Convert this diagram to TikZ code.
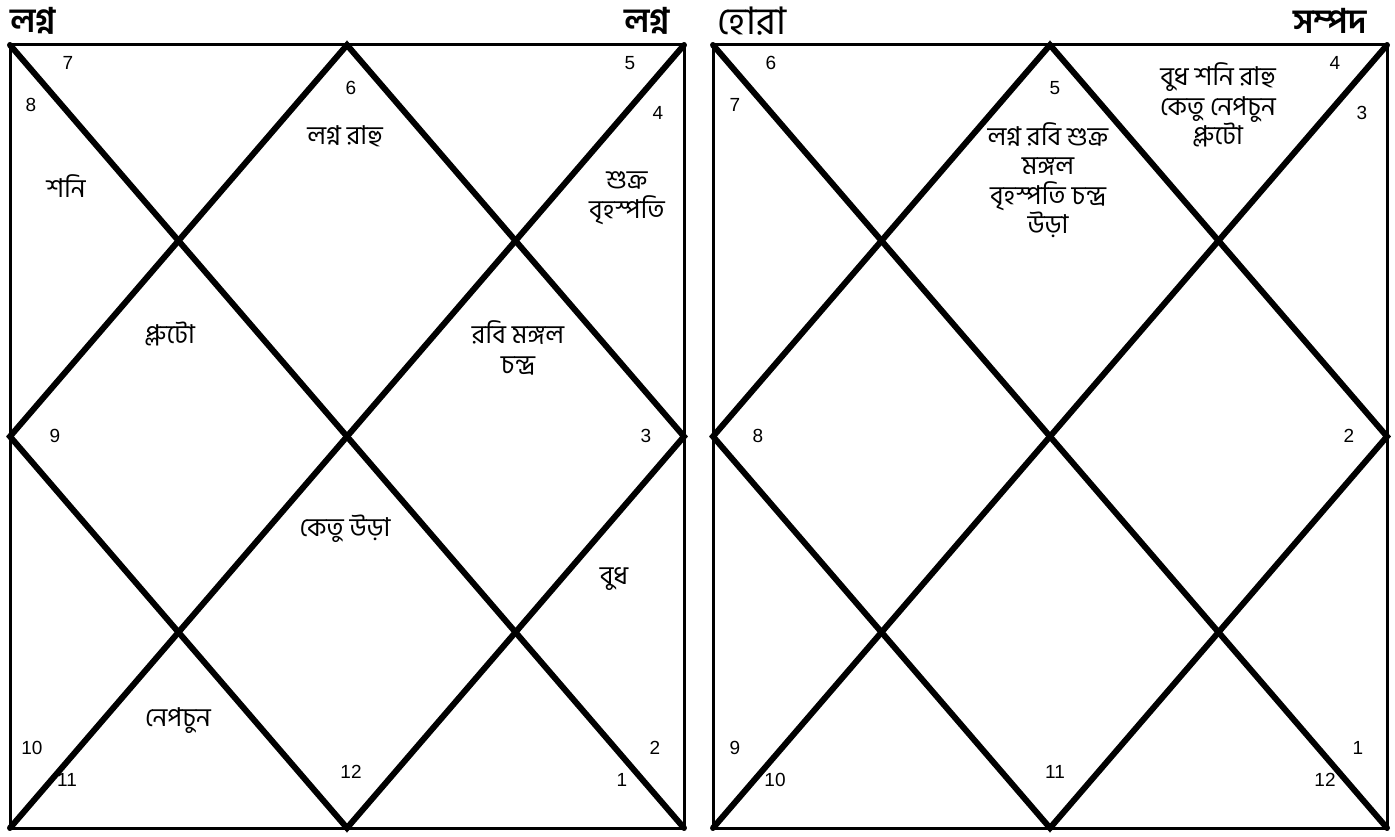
\documentclass[tikz,border=0pt]{standalone}
\usepackage{fontspec}
\setmainfont{Liberation Sans}
\newfontfamily\bn[Script=Bengali]{Hind Siliguri}
\begin{document}
\begin{tikzpicture}[x=1pt,y=-1pt]
\tikzset{
  frame/.style={line width=3pt},
  diag/.style={line width=6pt,line cap=round},
  num/.style={font=\fontsize{19}{22}\selectfont,inner sep=0pt},
  graha/.style={font=\bn\fontsize{26}{29.5}\selectfont,align=center,inner sep=0pt},
  title/.style={font=\bn\bfseries\fontsize{34}{36}\selectfont,inner sep=0pt}
}
\useasboundingbox (0,0) rectangle (1395,837);

% two charts, same grid
\foreach \c/\x in {lagna/10,hora/713}{
  \coordinate (\c-nw) at (\x,45);
  \coordinate (\c-ne) at (\x+674,45);
  \coordinate (\c-se) at (\x+674,828);
  \coordinate (\c-sw) at (\x,828);
  \coordinate (\c-n) at (\x+337,45);
  \coordinate (\c-e) at (\x+674,436.5);
  \coordinate (\c-s) at (\x+337,828);
  \coordinate (\c-w) at (\x,436.5);
  \draw[frame] (\c-nw) rectangle (\c-se);
  \draw[diag] (\c-nw) -- (\c-se);
  \draw[diag] (\c-ne) -- (\c-sw);
  \draw[diag,line join=miter] (\c-n) -- (\c-e) -- (\c-s) -- (\c-w) -- cycle;
}

% titles
\node[title] (t1) at (33,21) {লগ্ন};
\node[title] (t2) at (647,21) {লগ্ন};
\node[title,font=\bn\fontsize{38}{40}\selectfont] (t3) at (752,21) {হোরা};
\node[title] (t4) at (1330,21) {সম্পদ};

% lagna chart: house numbers
\node[num] (l7) at (68,63) {7};
\node[num] (l8) at (31,105) {8};
\node[num] (l6) at (351,88) {6};
\node[num] (l5) at (630,63) {5};
\node[num] (l4) at (658,113) {4};
\node[num] (l9) at (55,436) {9};
\node[num] (l3) at (646,436) {3};
\node[num] (l10) at (32,748) {10};
\node[num] (l11) at (67,780) {11};
\node[num] (l12) at (351,772) {12};
\node[num] (l2) at (655,748) {2};
\node[num] (l1) at (622,780) {1};

% lagna chart: planets
\node[graha] (lrahu) at (345,136) {লগ্ন রাহু};
\node[graha] (lshani) at (66,186) {শনি};
\node[graha] (lshukra) at (627,198) {শুক্র\\বৃহস্পতি};
\node[graha] (lpluto) at (170,334) {প্লুটো};
\node[graha] (lrabi) at (518,348) {রবি মঙ্গল\\চন্দ্র};
\node[graha] (lketu) at (345,529) {কেতু উড়া};
\node[graha] (lbudh) at (614,579) {বুধ};
\node[graha] (lnep) at (178,721) {নেপচুন};

% hora chart: house numbers
\node[num] (h6) at (771,63) {6};
\node[num] (h7) at (735,105) {7};
\node[num] (h5) at (1055,88) {5};
\node[num] (h4) at (1335,63) {4};
\node[num] (h3) at (1362,113) {3};
\node[num] (h8) at (758,436) {8};
\node[num] (h2) at (1349,436) {2};
\node[num] (h9) at (735,748) {9};
\node[num] (h10) at (775,780) {10};
\node[num] (h11) at (1055,772) {11};
\node[num] (h1) at (1358,748) {1};
\node[num] (h12) at (1325,780) {12};

% hora chart: planets
\node[graha] (hlagna) at (1048,180) {লগ্ন রবি শুক্র\\মঙ্গল\\বৃহস্পতি চন্দ্র\\উড়া};
\node[graha] (hbudh) at (1218,105) {বুধ শনি রাহু\\কেতু নেপচুন\\প্লুটো};
\end{tikzpicture}
\end{document}
